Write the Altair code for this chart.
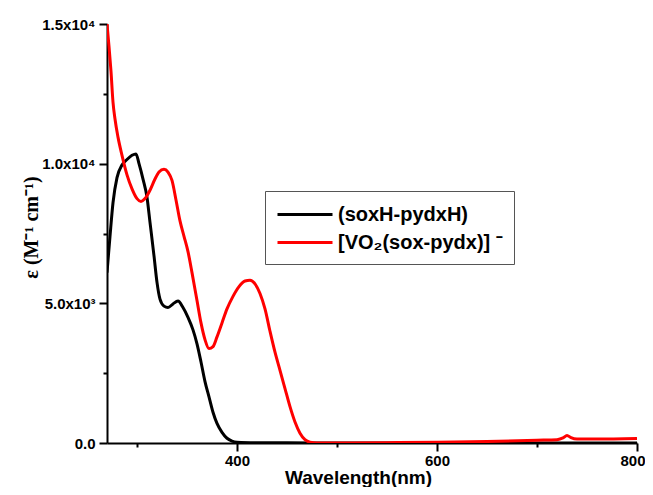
import altair as alt
import pandas as pd

# black: (soxH-pydxH)
black_nm = [270, 273, 276, 280, 285, 290, 295, 299, 302, 306, 310, 313, 317, 320, 323, 327, 331, 336, 341,
            346, 351, 356, 360, 364, 368, 372, 376, 380, 385, 390, 395, 400, 420, 450, 500, 600, 700, 800]
black_eps = [6100, 7400, 8600, 9500, 9950, 10150, 10300, 10350, 10000, 9450, 8800, 7900, 6700, 5750, 5150,
             4900, 4850, 4980, 5080, 4850, 4500, 4050, 3550, 2900, 2200, 1650, 1100, 700, 380, 170, 70, 30,
             10, 5, 0, 0, 0, 0]

# red: [VO2(sox-pydx)]-
red_nm = [270, 272, 274, 276, 278, 281, 285, 290, 295, 300, 304, 308, 313, 318, 322, 327, 331, 335, 339,
          343, 347, 351, 355, 360, 364, 368, 372, 376, 380, 385, 390, 396, 402, 408, 413, 418, 423, 428,
          433, 438, 443, 448, 453, 458, 463, 468, 473, 480, 500, 550, 600, 650, 700, 720, 726, 730, 734,
          740, 760, 800]
red_eps = [15000, 14200, 13300, 12200, 11600, 10950, 10300, 9600, 9100, 8750, 8650, 8750, 9050, 9450, 9700,
           9800, 9700, 9400, 8700, 7950, 7400, 6850, 6100, 5100, 4300, 3700, 3380, 3450, 3800, 4300, 4800,
           5250, 5600, 5800, 5830, 5700, 5350, 4800, 4000, 3250, 2600, 1950, 1300, 750, 350, 120, 30, 0, 0,
           10, 30, 55, 100, 120, 180, 270, 190, 140, 140, 160]

series_names = ["(soxH-pydxH)", "[VO\u2082(sox-pydx)] \u207b\u00a0\u00a0\u00a0\u00a0"]
series_colors = ["#000000", "#ff0000"]

x_major = [400, 600, 800]
x_minor = [300, 500, 700]
y_major = [0, 5000, 10000, 15000]
y_minor = [2500, 7500, 12500]
y_labels = ["0.0", "5.0x10\u00b3", "1.0x10\u2074", "1.5x10\u2074"]

df = pd.concat([
    pd.DataFrame({"nm": black_nm, "eps": black_eps, "series": series_names[0], "ord": 0}),
    pd.DataFrame({"nm": red_nm, "eps": red_eps, "series": series_names[1], "ord": 1}),
])

label_expr = " : ".join(
    f"datum.value == {v} ? '{t}'" for v, t in zip(y_major, y_labels)
) + " : ''"

x_scale = alt.Scale(domain=[270, 800], nice=False, zero=False)
y_scale = alt.Scale(domain=[0, 15000], nice=False)

base = alt.Chart(df)

lines = base.mark_line(strokeWidth=3, interpolate="monotone", clip=True).encode(
    x=alt.X("nm:Q", scale=x_scale,
            axis=alt.Axis(values=x_major, title="Wavelength(nm)", orient="bottom",
                          labelFlush=True, labelFlushOffset=8,
                          grid=False, domainColor="black", domainWidth=2, tickColor="black", tickWidth=2,
                          tickSize=8, labelFont="Liberation Sans", labelFontWeight="bold", labelFontSize=15,
                          labelColor="black", labelPadding=2,
                          titleFont="Liberation Sans", titleFontWeight="bold", titleFontSize=19,
                          titleColor="black", titleX=251, titleY=25)),
    y=alt.Y("eps:Q", scale=y_scale,
            axis=alt.Axis(values=y_major, title="\u03b5 (M\u207b\u00b9 cm\u207b\u00b9)", orient="left",
                          labelExpr=label_expr, labelFlush=False,
                          grid=False, domainColor="black", domainWidth=2, tickColor="black", tickWidth=2,
                          tickSize=8, labelFont="Liberation Sans", labelFontWeight="bold", labelFontSize=15,
                          labelColor="black", labelPadding=4,
                          titleFont="Liberation Serif", titleFontWeight="bold", titleFontSize=20,
                          titleColor="black", titlePadding=0, titleY=203)),
    color=alt.Color("series:N", scale=alt.Scale(domain=series_names, range=series_colors),
                    legend=alt.Legend(title=None, orient="none", legendX=158, legendY=167,
                                      symbolType="M-2.5,0L2.5,0", symbolSize=484, symbolStrokeWidth=3,
                                      symbolOffset=16.5, labelOffset=20.5,
                                      labelFont="Liberation Sans", labelFontWeight="bold",
                                      labelFontSize=20, labelColor="black", labelLimit=400,
                                      strokeColor="#555555", padding=11, rowPadding=5,
                                      fillColor="white")),
    order=alt.Order("ord:Q"),
    detail="series:N",
)

minor = base.mark_line(opacity=0).encode(
    x=alt.X("nm:Q", scale=x_scale,
            axis=alt.Axis(values=x_minor, title=None, labels=False, domain=False, grid=False,
                          orient="bottom", tickColor="black", tickWidth=2, tickSize=4)),
    y=alt.Y("eps:Q", scale=y_scale,
            axis=alt.Axis(values=y_minor, title=None, labels=False, domain=False, grid=False,
                          orient="left", tickColor="black", tickWidth=2, tickSize=4)),
    detail="series:N",
)

chart = alt.layer(lines, minor).resolve_axis(x="independent", y="independent").properties(
    width=530, height=419,
    autosize=alt.AutoSizeParams(type="none"),
    padding={"left": 99, "top": 16, "right": 8, "bottom": 44},
).configure_view(stroke=None)

chart.save("out.html", embed_options={"renderer": "svg", "actions": False})
